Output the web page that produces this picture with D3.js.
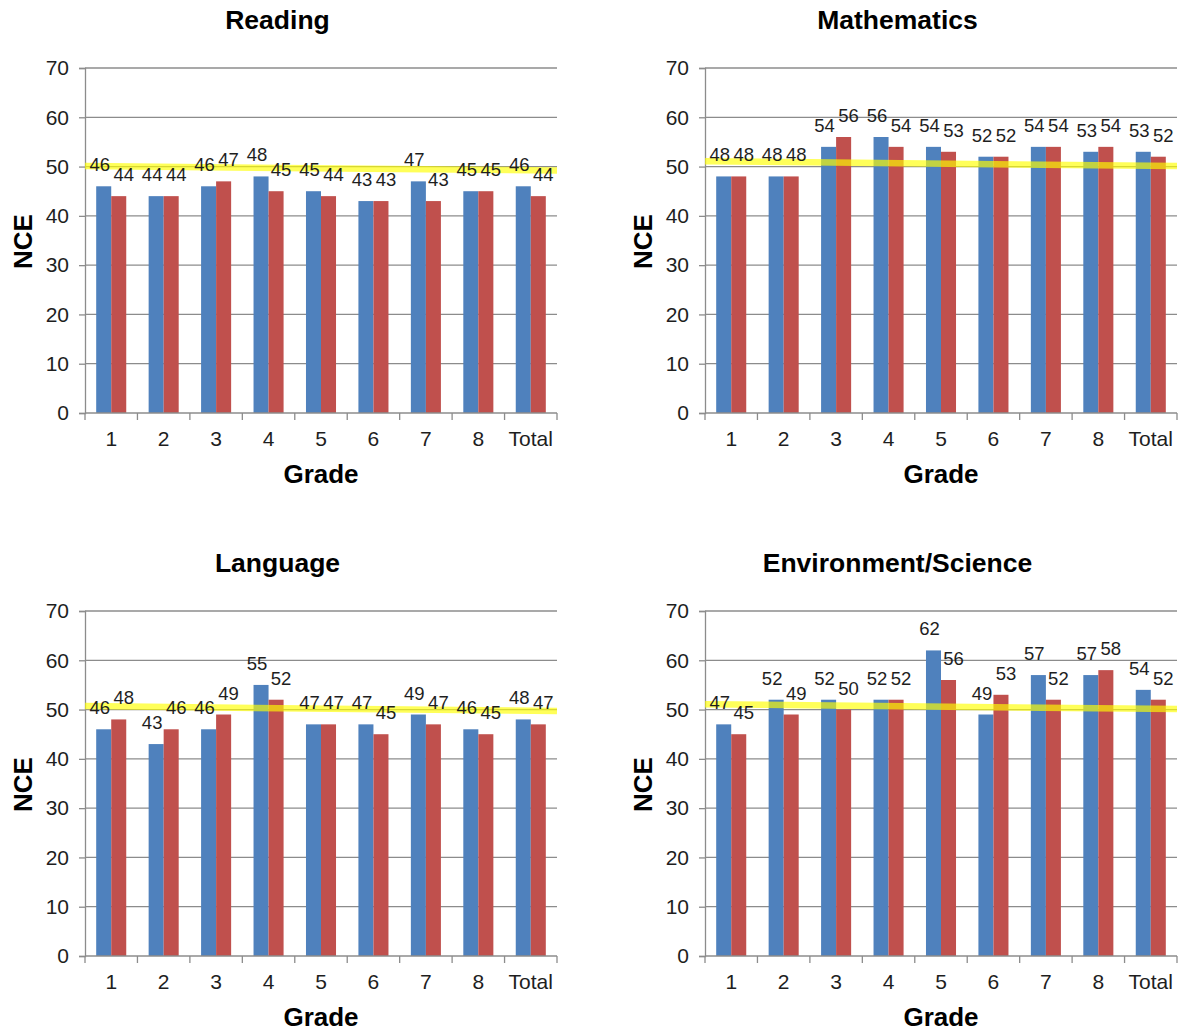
<!DOCTYPE html>
<html>
<head>
<meta charset="utf-8">
<script src="https://cdn.jsdelivr.net/npm/d3@7"></script>
<style>
  html, body { margin: 0; padding: 0; background: #fff; }
  svg { display: block; font-family: "Liberation Sans", Arial, sans-serif; }
</style>
</head>
<body>
<svg id="chart" width="1181" height="1032"></svg>
<script>
// ---------- data ----------
const categories = ["1", "2", "3", "4", "5", "6", "7", "8", "Total"];
const yTicks = [0, 10, 20, 30, 40, 50, 60, 70];
const panelTitles = ["Reading", "Mathematics", "Language", "Environment/Science"];

const readingBlue = [46, 44, 46, 48, 45, 43, 47, 45, 46];
const readingRed  = [44, 44, 47, 45, 44, 43, 43, 45, 44];
const mathBlue    = [48, 48, 54, 56, 54, 52, 54, 53, 53];
const mathRed     = [48, 48, 56, 54, 53, 52, 54, 54, 52];
const langBlue    = [46, 43, 46, 55, 47, 47, 49, 46, 48];
const langRed     = [48, 46, 49, 52, 47, 45, 47, 45, 47];
const envBlue     = [47, 52, 52, 52, 62, 49, 57, 57, 54];
const envRed      = [45, 49, 50, 52, 56, 53, 52, 58, 52];

// hand-drawn yellow reference line: value at left end and right end
const refStart = [50.1, 51.1, 50.7, 51.1];
const refEnd   = [49.2, 50.1, 49.7, 50.1];

// ---------- layout ----------
const svg = d3.select("#chart");
const panels = [
  { title: panelTitles[0], blue: readingBlue, red: readingRed, r0: refStart[0], r1: refEnd[0], ox: 0,   oy: 0 },
  { title: panelTitles[1], blue: mathBlue,    red: mathRed,    r0: refStart[1], r1: refEnd[1], ox: 620, oy: 0 },
  { title: panelTitles[2], blue: langBlue,    red: langRed,    r0: refStart[2], r1: refEnd[2], ox: 0,   oy: 543 },
  { title: panelTitles[3], blue: envBlue,     red: envRed,     r0: refStart[3], r1: refEnd[3], ox: 620, oy: 543 }
];

const axisX = 85, plotW = 472, plotTop = 68, plotBottom = 413;
const blueColor = "#4F81BD", redColor = "#C0504D";
const gridColor = "#8c8c8c", textColor = "#1e1e1e";

const x = d3.scaleBand().domain(categories).range([axisX, axisX + plotW])
  .paddingInner(0.427).paddingOuter(0.2135);
const y = d3.scaleLinear().domain([0, 70]).range([plotBottom, plotTop]);
const sub = d3.scaleBand().domain(["blue", "red"]).range([0, x.bandwidth()]);
const step = x.step();

panels.forEach(p => {
  const g = svg.append("g").attr("transform", `translate(${p.ox},${p.oy})`);

  // gridlines
  g.append("g").selectAll("line").data(yTicks.filter(t => t > 0)).join("line")
    .attr("x1", axisX).attr("x2", axisX + plotW)
    .attr("y1", d => y(d)).attr("y2", d => y(d))
    .attr("stroke", gridColor).attr("stroke-width", 1.3);

  // bars
  const rows = categories.map((c, i) => ({ c, blue: p.blue[i], red: p.red[i] }));
  const bars = g.append("g");
  bars.selectAll("rect.b").data(rows).join("rect").attr("class", "b")
    .attr("x", d => x(d.c) + sub("blue")).attr("width", sub.bandwidth())
    .attr("y", d => y(d.blue)).attr("height", d => y(0) - y(d.blue))
    .attr("fill", blueColor);
  bars.selectAll("rect.r").data(rows).join("rect").attr("class", "r")
    .attr("x", d => x(d.c) + sub("red")).attr("width", sub.bandwidth())
    .attr("y", d => y(d.red)).attr("height", d => y(0) - y(d.red))
    .attr("fill", redColor);

  // y axis
  const yAxis = d3.axisLeft(y).tickValues(yTicks).tickSize(6).tickPadding(10).tickFormat(d3.format("d"));
  const ya = g.append("g").attr("transform", `translate(${axisX},0)`).call(yAxis);
  ya.select(".domain").attr("stroke", gridColor).attr("stroke-width", 1.3);
  ya.selectAll(".tick line").attr("stroke", gridColor).attr("stroke-width", 1.3);
  ya.selectAll(".tick text").attr("fill", textColor).attr("font-size", 21)
    .attr("font-family", "Liberation Sans, Arial, sans-serif");

  // x axis: line + category boundary ticks
  g.append("line").attr("x1", axisX).attr("x2", axisX + plotW)
    .attr("y1", y(0)).attr("y2", y(0)).attr("stroke", gridColor).attr("stroke-width", 1.3);
  g.append("g").selectAll("line").data(d3.range(categories.length + 1)).join("line")
    .attr("x1", i => axisX + i * step).attr("x2", i => axisX + i * step)
    .attr("y1", y(0)).attr("y2", y(0) + 7)
    .attr("stroke", gridColor).attr("stroke-width", 1.3);
  g.append("g").selectAll("text").data(categories).join("text")
    .attr("x", d => x(d) + x.bandwidth() / 2).attr("y", y(0) + 33)
    .attr("text-anchor", "middle").attr("font-size", 21).attr("fill", textColor)
    .text(d => d);

  // yellow reference line (hand-drawn highlighter)
  g.append("line")
    .attr("x1", axisX).attr("x2", axisX + plotW)
    .attr("y1", y(p.r0)).attr("y2", y(p.r1))
    .attr("stroke", "#ffff00").attr("stroke-opacity", 0.65).attr("stroke-width", 6.5);

  // data labels
  const labels = g.append("g").attr("font-size", 18.5).attr("fill", textColor).attr("text-anchor", "middle");
  labels.selectAll("text.b").data(rows).join("text").attr("class", "b")
    .attr("x", d => x(d.c) + sub("blue") + sub.bandwidth() / 2 - 4)
    .attr("y", d => y(d.blue) - 15).text(d => d.blue);
  labels.selectAll("text.r").data(rows).join("text").attr("class", "r")
    .attr("x", d => x(d.c) + sub("red") + sub.bandwidth() / 2 + 5)
    .attr("y", d => y(d.red) - 15).text(d => d.red);

  // titles
  g.append("text").attr("x", 277.5).attr("y", 29).attr("text-anchor", "middle")
    .attr("font-size", 26.5).attr("font-weight", "bold").attr("fill", "#000").text(p.title);
  g.append("text").attr("x", axisX + plotW / 2).attr("y", 483).attr("text-anchor", "middle")
    .attr("font-size", 26).attr("font-weight", "bold").attr("fill", "#000").text("Grade");
  g.append("text").attr("transform", `translate(32,${(plotTop + plotBottom) / 2 + 1}) rotate(-90)`)
    .attr("text-anchor", "middle")
    .attr("font-size", 26).attr("font-weight", "bold").attr("fill", "#000").text("NCE");
});
</script>
</body>
</html>
